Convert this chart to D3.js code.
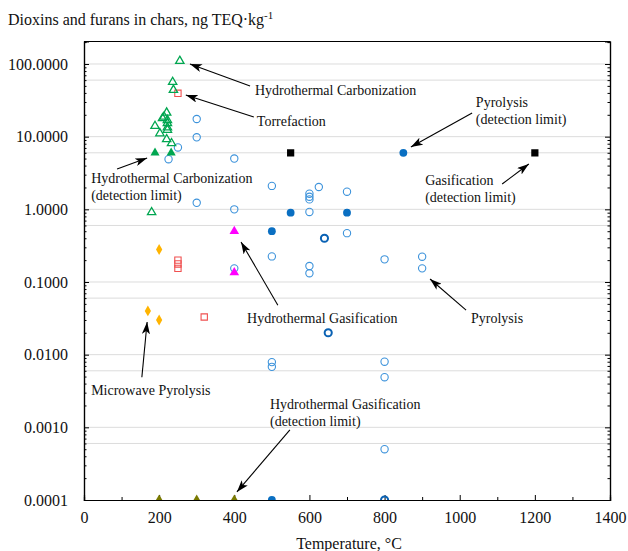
<!DOCTYPE html>
<html><head><meta charset="utf-8">
<script src="https://cdn.jsdelivr.net/npm/d3@7"></script>
<style>body{margin:0;background:#fff}svg{display:block}text{font-family:"Liberation Serif","Times New Roman",serif;fill:#111}</style>
</head><body><svg id="c" width="628" height="551"></svg>
<script>
// ---------- DATA ----------
const xTicks = [0,200,400,600,800,1000,1200,1400];
const yTicks = [0.0001,0.001,0.01,0.1,1,10,100];
const yGrid = [100,60,10,6,1,0.6,0.1,0.06,0.01,0.006,0.001,0.0006];

const pyrolysisT = [300,300,250,225,400,500,300,400,600,600,600,625,700,600,700,500,600,600,400,800,900,900,500,500,800,800,800];
const pyrolysisV = [17.5,9.8,7.1,4.9,5.0,2.1,1.23,1.0,1.64,1.49,1.37,2.03,1.75,0.92,0.47,0.225,0.166,0.132,0.154,0.205,0.223,0.154,0.0079,0.0068,0.008,0.0049,0.0005];
const pyrolysisDLT = [850,550,700,500,500];
const pyrolysisDLV = [6,0.9,0.9,0.5,0.0001];
const pyrolysisRingT = [640,650,800];
const pyrolysisRingV = [0.4,0.02,0.0001];
const htcT = [255,236,238,220,213,209,222,222,222,222,189,202,220,233,180];
const htcV = [110,56.5,43.9,21.4,18.8,17.9,16.9,15.3,13.4,12.4,14,11.1,9.2,8.1,0.91];
const htcDLT = [189,232];
const htcDLV = [6,6];
const torrT = [250,250,250,250,320];
const torrV = [39.5,0.2,0.177,0.154,0.033];
const microT = [200,170,200];
const microV = [0.28,0.040,0.030];
const htgT = [400,400];
const htgV = [0.5,0.135];
const htgDLT = [200,300,400];
const htgDLV = [0.0001,0.0001,0.0001];
const gasDLT = [550,1200];
const gasDLV = [6,6];

// annotations: text lines anchored in data units, arrow from/to in data units
const annotations = [
  {lines:["Hydrothermal Carbonization"], at:[455,37.4], from:[442,49.8], to:[282,100]},
  {lines:["Torrefaction"], at:[460,14.0], from:[452,18.6], to:[271,37.4]},
  {lines:["Hydrothermal Carbonization","(detection limit)"], at:[19,2.30], from:[88,3.59], to:[168,5.08]},
  {lines:["Pyrolysis","(detection limit)"], at:[1043,25.6], from:[1033,21.2], to:[870,7.2]},
  {lines:["Gasification","(detection limit)"], at:[908,2.16], from:[1113,2.23], to:[1184,4.2]},
  {lines:["Hydrothermal Gasification"], at:[434,0.0273], from:[516,0.048], to:[418,0.355]},
  {lines:["Pyrolysis"], at:[1030,0.0273], from:[1017,0.041], to:[921,0.11]},
  {lines:["Microwave Pyrolysis"], at:[19,0.00279], from:[154,0.0049], to:[168,0.0281]},
  {lines:["Hydrothermal Gasification","(detection limit)"], at:[495,0.00179], from:[548,0.00092], to:[407,0.000129]}
];

// ---------- CHART ----------
const svg = d3.select("#c");
const L=84, R=610, T=41.5, B=500;
const x = d3.scaleLinear().domain([0,1400]).range([L,R]);
const y = d3.scaleLog().domain([0.0001,204]).range([B,T]);

svg.append("defs").append("clipPath").attr("id","clip")
  .append("rect").attr("x",L).attr("y",T).attr("width",R-L).attr("height",B-T);
const mk = svg.select("defs").append("marker").attr("id","arr")
  .attr("viewBox","0 0 12 8").attr("refX",12).attr("refY",4)
  .attr("markerWidth",12).attr("markerHeight",8).attr("markerUnits","userSpaceOnUse")
  .attr("orient","auto");
mk.append("path").attr("d","M0,0 L12,4 L0,8 L3,4 Z").attr("fill","#000");

// grid
svg.append("g").selectAll("line").data(yGrid).join("line")
  .attr("x1",L).attr("x2",R).attr("y1",d=>y(d)).attr("y2",d=>y(d))
  .attr("stroke","#dcdcdc").attr("stroke-width",1);

// minor tick values
const yMinor = [];
for (let e=-4;e<=2;e++) for (let m=2;m<=9;m++){const v=m*Math.pow(10,e); if(v<204) yMinor.push(v);}
const xMinor = d3.range(100,1400,200);

// axes
const fs = "16px";
svg.append("g").attr("transform",`translate(${L},0)`)
  .call(d3.axisLeft(y).tickValues(yTicks).tickFormat(d3.format(".4f")).tickSize(-5).tickPadding(16));
svg.append("g").attr("transform",`translate(${L},0)`)
  .call(d3.axisLeft(y).tickValues(yMinor).tickFormat("").tickSize(-2.5));
svg.append("g").attr("transform",`translate(${R},0)`)
  .call(d3.axisRight(y).tickValues(yTicks).tickFormat("").tickSize(-5));
svg.append("g").attr("transform",`translate(${R},0)`)
  .call(d3.axisRight(y).tickValues(yMinor).tickFormat("").tickSize(-2.5));
svg.append("g").attr("transform",`translate(0,${B})`)
  .call(d3.axisBottom(x).tickValues(xTicks).tickFormat(d3.format("d")).tickSize(-5).tickPadding(12));
svg.append("g").attr("transform",`translate(0,${B})`)
  .call(d3.axisBottom(x).tickValues(xMinor).tickFormat("").tickSize(-3));
svg.selectAll(".domain").attr("stroke","#000").attr("stroke-width",1.2);
svg.selectAll(".tick line").attr("stroke","#000");
svg.selectAll(".tick text").style("font-size",fs).style("font-family",'"Liberation Serif",serif').attr("fill","#111");
// frame top
svg.append("line").attr("x1",L).attr("x2",R).attr("y1",T).attr("y2",T).attr("stroke","#000").attr("stroke-width",1.2);

// titles
const title = svg.append("text").attr("x",8).attr("y",25).style("font-size","16px");
title.append("tspan").text("Dioxins and furans in chars, ng TEQ·kg");
title.append("tspan").attr("dy",-6).style("font-size","11px").text("-1");
svg.append("text").attr("x",(L+R)/2 + 2).attr("y",549).attr("text-anchor","middle")
  .style("font-size","16px").text("Temperature, °C");

// marks
const plot = svg.append("g").attr("clip-path","url(#clip)");
function series(ts, vs, sym, size, fill, stroke, sw){
  plot.append("g").selectAll("path").data(ts.map((t,i)=>[t,vs[i]])).join("path")
    .attr("transform",d=>`translate(${x(d[0])},${y(d[1])})`)
    .attr("d",d3.symbol().type(sym).size(size))
    .attr("fill",fill).attr("stroke",stroke).attr("stroke-width",sw);
}
series(pyrolysisT,pyrolysisV,d3.symbolCircle,42,"none","#3d93db",1.1);
series(torrT,torrV,d3.symbolSquare,40,"none","#f05050",1.1);
series(microT,microV,d3.symbolDiamond,34,"#ffb400","none",0);
series(htcT,htcV,d3.symbolTriangle,30,"none","#00a650",1.3);
series(htcDLT,htcDLV,d3.symbolTriangle,36,"#00a650","none",0);
series(htgT,htgV,d3.symbolTriangle,40,"#ff00ff","none",0);
series(htgDLT,htgDLV,d3.symbolTriangle,40,"#7a7a00","none",0);
series(gasDLT,gasDLV,d3.symbolSquare,52,"#000","none",0);
series(pyrolysisDLT,pyrolysisDLV,d3.symbolCircle,48,"#0a6fc2","none",0);
series(pyrolysisRingT,pyrolysisRingV,d3.symbolCircle,40,"none","#0a62b4",2);

// annotations
const ag = svg.append("g");
annotations.forEach(a=>{
  const t = ag.append("text").attr("x",x(a.at[0])).attr("y",y(a.at[1])).style("font-size","14px");
  a.lines.forEach((l,i)=>t.append("tspan").attr("x",x(a.at[0])).attr("dy",i?17:0).text(l));
  ag.append("line").attr("x1",x(a.from[0])).attr("y1",y(a.from[1]))
    .attr("x2",x(a.to[0])).attr("y2",y(a.to[1]))
    .attr("stroke","#000").attr("stroke-width",1.1).attr("marker-end","url(#arr)");
});
</script></body></html>
